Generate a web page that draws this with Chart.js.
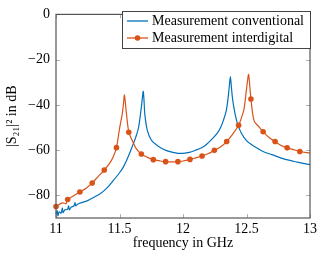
<!DOCTYPE html>
<html>
<head>
<meta charset="utf-8">
<script src="https://cdn.jsdelivr.net/npm/chart.js@4/dist/chart.umd.min.js"></script>
<style>
  html, body { margin: 0; padding: 0; background: #fff; }
  canvas { display: block; }
</style>
</head>
<body>
<canvas id="s21" width="320" height="256"></canvas>
<script>
// frequency in GHz, |S21|^2 in dB
var blueFreq = [11.00, 11.01, 11.015, 11.025, 11.04, 11.05, 11.055, 11.07, 11.09, 11.10, 11.105, 11.12, 11.14, 11.15, 11.155, 11.17,
    11.20, 11.25, 11.30, 11.35, 11.40, 11.45, 11.50, 11.53, 11.56, 11.60, 11.63, 11.65, 11.67, 11.68, 11.687,
    11.693, 11.70, 11.72, 11.75, 11.78, 11.82, 11.87, 11.92, 11.96, 12.00, 12.05, 12.10, 12.15, 12.18, 12.23,
    12.27, 12.30, 12.32, 12.34, 12.355, 12.365, 12.373, 12.38, 12.39, 12.41, 12.43, 12.46, 12.50, 12.55,
    12.63, 12.70, 12.80, 12.90, 13.00];
var blueDb = [-88.2, -86.8, -89.0, -87.3, -87.8, -85.6, -87.6, -86.4, -86.2, -84.6, -86.4, -85.2, -84.7, -83.2, -84.6, -83.9,
    -83.2, -82.3, -80.8, -79.2, -76.8, -73.5, -70.0, -67.5, -64.0, -58.5, -54.0, -50.0, -42.0, -37.0, -34.0,
    -38.0, -44.5, -51.5, -55.5, -57.2, -58.8, -60.2, -61.0, -61.4, -61.4, -61.0, -60.0, -58.8, -57.7, -55.0,
    -52.5, -49.5, -46.5, -42.8, -37.0, -31.5, -27.5, -31.5, -37.2, -44.0, -48.5, -52.5, -55.8, -58.0,
    -60.6, -62.0, -64.0, -65.3, -66.4];

var orangeFreq = [11.05, 11.08, 11.14, 11.24, 11.33, 11.42, 11.45, 11.50, 11.523, 11.533, 11.539, 11.546, 11.554,
    11.59, 11.606, 11.63, 11.72, 11.82, 11.91, 12.00, 12.10, 12.20, 12.30, 12.39, 12.47, 12.482, 12.50,
    12.51, 12.516, 12.522, 12.56, 12.60, 12.68, 12.77, 12.87, 13.00];
var orangeDb = [-83.3, -83.6, -80.2, -76.7, -71.8, -66.0, -63.0, -50.6, -43.5, -38.5, -35.6, -39.0, -43.5,
    -54.5, -56.4, -59.2, -63.2, -64.8, -65.2, -64.8, -63.4, -61.5, -58.4, -53.0, -44.0, -41.4, -33.0,
    -28.5, -26.5, -29.0, -47.1, -49.8, -54.5, -57.8, -59.8, -61.3];

// marked samples on the interdigital curve
var markFreq = [11.000, 11.092, 11.188, 11.285, 11.380, 11.476, 11.573, 11.672, 11.766, 11.863, 11.960,
    12.055, 12.150, 12.247, 12.344, 12.438, 12.535, 12.631, 12.725, 12.820, 12.920];
var markDb = [-84.9, -81.8, -78.5, -74.5, -68.8, -58.9, -52.1, -61.7, -64.2, -65.1, -65.1,
    -64.1, -62.6, -60.1, -56.2, -49.0, -37.4, -51.9, -56.2, -59.0, -60.6];

var xTicks = [11, 11.5, 12, 12.5, 13];
var yTicks = [-80, -60, -40, -20, 0];

var BLUE = '#0072BD';
var ORANGE = '#D95319';
var SERIF = '"Liberation Serif", "DejaVu Serif", serif';

function pairs(xs, ys) {
    return xs.map(function (x, i) { return { x: x, y: ys[i] }; });
}

var markPts = pairs(markFreq, markDb);
var orangePts = pairs(orangeFreq, orangeDb).concat(markPts).sort(function (a, b) { return a.x - b.x; });

function minusSign(v) {
    return String(v).replace('-', '\u2212');
}

// pgfplots style frame with inward ticks, plus the legend box
var framePlugin = {
    id: 'frame',
    afterDraw: function (chart) {
        var ctx = chart.ctx;
        var a = chart.chartArea;
        var xs = chart.scales.x, ys = chart.scales.y;
        ctx.save();
        ctx.strokeStyle = '#b0b0b0';
        ctx.lineWidth = 1;
        ctx.beginPath();
        xTicks.forEach(function (v) {
            var px = Math.round(xs.getPixelForValue(v)) + 0.5;
            ctx.moveTo(px, a.bottom); ctx.lineTo(px, a.bottom - 4);
            ctx.moveTo(px, a.top); ctx.lineTo(px, a.top + 4);
        });
        yTicks.forEach(function (v) {
            var py = Math.round(ys.getPixelForValue(v)) + 0.5;
            ctx.moveTo(a.left, py); ctx.lineTo(a.left + 4, py);
            ctx.moveTo(a.right, py); ctx.lineTo(a.right - 4, py);
        });
        ctx.stroke();

        ctx.strokeStyle = '#555';
        ctx.lineWidth = 1.2;
        ctx.strokeRect(a.left, a.top, a.right - a.left, a.bottom - a.top);

        // legend
        var bx = 122, by = 11, bw = 188, bh = 37;
        ctx.fillStyle = '#fff';
        ctx.fillRect(bx, by, bw, bh);
        ctx.strokeStyle = '#444';
        ctx.lineWidth = 1;
        ctx.strokeRect(bx + 0.5, by + 0.5, bw, bh);
        var rows = [
            { label: chart.data.datasets[0].label, color: BLUE, mark: false, y: 21 },
            { label: chart.data.datasets[1].label, color: ORANGE, mark: true, y: 38 }
        ];
        ctx.font = '14px ' + SERIF;
        ctx.textBaseline = 'middle';
        rows.forEach(function (r) {
            ctx.strokeStyle = r.color;
            ctx.lineWidth = 1.3;
            ctx.beginPath();
            ctx.moveTo(127, r.y); ctx.lineTo(148, r.y);
            ctx.stroke();
            if (r.mark) {
                ctx.fillStyle = r.color;
                ctx.beginPath();
                ctx.arc(137.5, r.y, 2.8, 0, Math.PI * 2);
                ctx.fill();
            }
            ctx.fillStyle = '#000';
            ctx.fillText(r.label, 152, r.y + 0.5);
        });
        ctx.restore();
    }
};

new Chart(document.getElementById('s21'), {
    type: 'line',
    data: {
        datasets: [{
            label: 'Measurement conventional',
            data: pairs(blueFreq, blueDb),
            borderColor: BLUE,
            borderWidth: 1.2,
            pointRadius: 0,
            tension: 0.3,
            order: 2
        }, {
            label: 'Measurement interdigital',
            data: orangePts,
            borderColor: ORANGE,
            borderWidth: 1.2,
            pointRadius: 0,
            tension: 0.3,
            order: 1
        }, {
            label: 'marks',
            data: markPts,
            showLine: false,
            pointRadius: 2.8,
            pointBackgroundColor: ORANGE,
            pointBorderWidth: 0,
            order: 0
        }]
    },
    options: {
        responsive: false,
        animation: false,
        clip: false,
        layout: { padding: { left: 0, top: 6, right: 9, bottom: 0 } },
        plugins: {
            legend: { display: false },
            tooltip: { enabled: false }
        },
        scales: {
            x: {
                type: 'linear',
                min: 11,
                max: 13,
                afterFit: function (s) { s.height = 38; },
                afterBuildTicks: function (s) { s.ticks = xTicks.map(function (v) { return { value: v }; }); },
                grid: { display: false, drawTicks: false, tickLength: 0 },
                border: { display: false },
                ticks: {
                    padding: 3,
                    maxRotation: 0,
                    color: '#000',
                    font: { family: SERIF, size: 14 },
                    callback: function (v) { return String(v); }
                },
                title: {
                    display: true,
                    text: 'frequency in GHz',
                    color: '#000',
                    font: { family: SERIF, size: 14 },
                    padding: { top: 4.6, bottom: 4.6 }
                }
            },
            y: {
                min: -90,
                max: 0,
                afterFit: function (s) { s.width = 56; },
                afterBuildTicks: function (s) { s.ticks = yTicks.map(function (v) { return { value: v }; }); },
                grid: { display: false, drawTicks: false, tickLength: 0 },
                border: { display: false },
                ticks: {
                    padding: 6,
                    color: '#000',
                    font: { family: SERIF, size: 14 },
                    callback: function (v) { return minusSign(v); }
                },
                title: {
                    display: true,
                    text: '|S\u2082\u2081|\u00b2 in dB',
                    color: '#000',
                    font: { family: SERIF, size: 14 },
                    padding: { top: 3.6, bottom: 3.6 }
                }
            }
        }
    },
    plugins: [framePlugin]
});
</script>
</body>
</html>
